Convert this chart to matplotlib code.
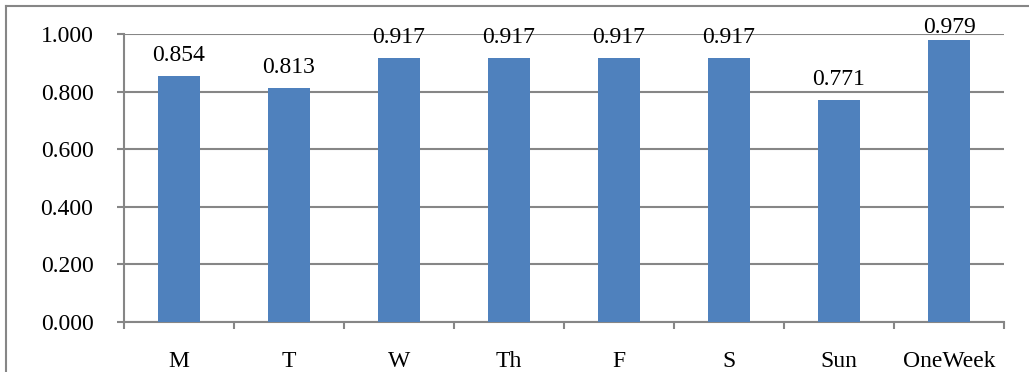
import numpy as np
import matplotlib.pyplot as plt
from matplotlib.lines import Line2D
from matplotlib.ticker import FixedLocator, FormatStrFormatter

# ───────── DATOS ─────────
dias    = ['M', 'T', 'W', 'Th', 'F', 'S', 'Sun', 'OneWeek']
valores = [0.854, 0.813, 0.917, 0.917, 0.917, 0.917, 0.771, 0.979]
y_ticks = [0.0, 0.2, 0.4, 0.6, 0.8, 1.0]

plt.rcParams['font.family'] = ['Liberation Serif', 'DejaVu Serif']
gris = '#868686'
fs = 17

fig = plt.figure(figsize=(10.29, 3.72), dpi=100)
ax = fig.add_axes([124/1029, 50/372, 880/1029, 288/372])

x = np.arange(len(dias))
ax.bar(x, valores, width=0.39, color='#4F81BD', zorder=3)

# etiquetas de valor: 15 px sobre la barra, sin salir por arriba del gráfico
for xi, v in zip(x, valores):
    y_txt = min(v + 15/288, 1.003)
    ax.text(xi, y_txt, f'{v:.3f}', ha='center', va='baseline',
            fontsize=fs, clip_on=False, zorder=4)

ax.set_xlim(-0.5, len(dias) - 0.5)
ax.set_ylim(0, 1.0)
ax.set_yticks(y_ticks)
ax.yaxis.set_major_formatter(FormatStrFormatter('%.3f'))
ax.grid(axis='y', color=gris, linewidth=1.5, zorder=0)

# etiquetas al centro, marcas en los límites de cada categoría
ax.set_xticks(x)
ax.set_xticklabels(dias)
ax.xaxis.set_minor_locator(FixedLocator(np.arange(len(dias) + 1) - 0.5))
ax.tick_params(axis='x', which='major', length=0, pad=21, labelsize=fs)
ax.tick_params(axis='x', which='minor', length=5, width=1.5, color=gris)
ax.tick_params(axis='y', length=5, width=1.5, color=gris, pad=17, labelsize=fs)

for lado in ['top', 'right']:
    ax.spines[lado].set_visible(False)
for lado in ['left', 'bottom']:
    ax.spines[lado].set_color(gris)
    ax.spines[lado].set_linewidth(1.5)

# marco exterior del gráfico
fig.add_artist(Line2D([6/1029, 6/1029], [0, 1 - 6/372], transform=fig.transFigure,
                      color=gris, linewidth=1.5))
fig.add_artist(Line2D([6/1029, 1], [1 - 6/372, 1 - 6/372], transform=fig.transFigure,
                      color=gris, linewidth=1.5))

fig.savefig('out.png', dpi=100)
